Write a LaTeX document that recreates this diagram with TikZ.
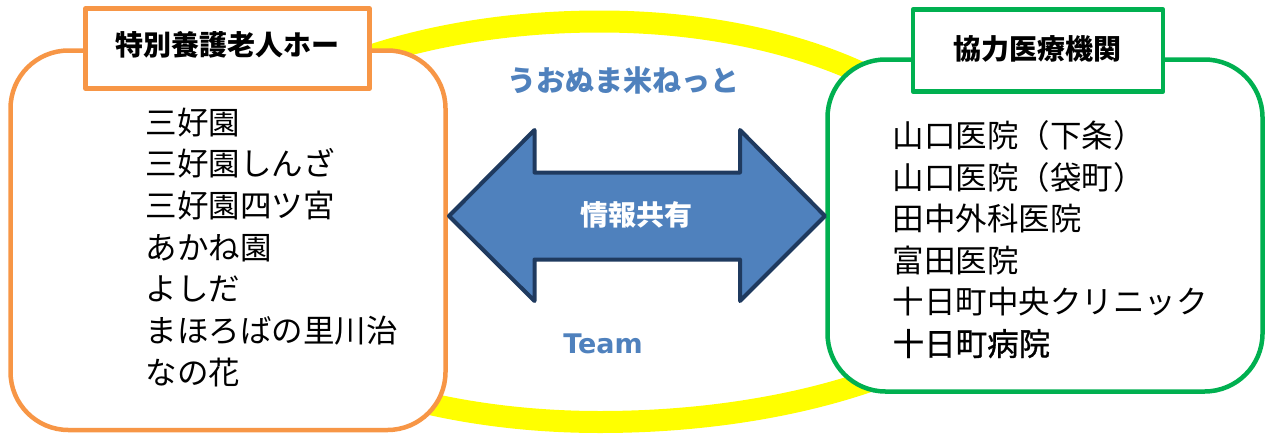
\documentclass[tikz,border=0pt]{standalone}
\usepackage{fontspec}
\setmainfont{Noto Sans CJK JP}
\newfontfamily\teamfont{DejaVu Sans}
\definecolor{homeorange}{HTML}{F79646}
\definecolor{clinicgreen}{HTML}{00B050}
\definecolor{netblue}{HTML}{4F81BD}
\definecolor{arrownavy}{HTML}{1F3A5F}
\definecolor{ringyellow}{HTML}{FFFF00}

\begin{document}
\begin{tikzpicture}[x=1pt,y=-1pt]

    \tikzset{
      group/.style={line width = 4.5, fill = white, rounded corners = 58},
      title/.style={line width = 4.5, fill = white, line join = round},
      member/.style={anchor = base west, inner sep = 0pt, font = \fontsize{31.5}{31.5}\selectfont},
      heading/.style={anchor = center, inner sep = 0pt, font = \fontsize{28}{28}\selectfont\bfseries},
    }
    \useasboundingbox (0,0) rectangle (1265,434);

	\draw[color = {ringyellow}, line width = 22] (190,221.5) .. controls (190,110.9) and (373.7,21.5) .. (600,21.5) .. controls (815.3,21.5) and (990,110.9) .. (990,221.5) -- (1045,221.5) .. controls (1045,332.1) and (845.6,422) .. (600,422) .. controls (373.7,422) and (190,332.1) .. (190,221.5) -- cycle;

	\draw[color = {homeorange}, group] (10.5,50.5) rectangle (445.5,430);
	\draw[color = {clinicgreen}, group] (827.5,59.5) rectangle (1262.5,391.5);
	\draw[color = {homeorange}, title] (85.5,8.5) rectangle (369.5,88.5);
	\draw[color = {clinicgreen}, title] (913,9.5) rectangle (1163,91.5);

	\draw[color = {arrownavy}, fill = {netblue}, line width = 4, line join = round] (449,216) -- (534.5,130) -- (534.5,172.5) -- (740,172.5) -- (740,130) -- (825,216) -- (740,301) -- (740,259.5) -- (534.5,259.5) -- (534.5,301) -- cycle;

	\draw (227.5,45) node[heading] (homes) {特別養護老人ホー};
	\draw (1037.5,48.5) node[heading] (clinics) {協力医療機関};
	\draw (623,80.5) node[heading, color = {netblue}, font = \fontsize{29}{29}\selectfont\bfseries] (net) {うおぬま米ねっと};
	\draw (636.7,214.5) node[heading, color = white] (share) {情報共有};
	\draw (603,344) node[anchor = center, inner sep = 0pt, color = {netblue}, font = \fontsize{27}{27}\selectfont\teamfont\bfseries] (team) {Team};

	\draw (145.5,134) node[member] (home1) {三好園};
	\draw (145.5,175.7) node[member] (home2) {三好園しんざ};
	\draw (145.5,217.3) node[member] (home3) {三好園四ツ宮};
	\draw (145.5,259) node[member] (home4) {あかね園};
	\draw (145.5,300.7) node[member] (home5) {よしだ};
	\draw (145.5,342.3) node[member] (home6) {まほろばの里川治};
	\draw (145.5,384) node[member] (home7) {なの花};

	\draw (892.5,147.5) node[member] (clinic1) {山口医院（下条）};
	\draw (892.5,189.1) node[member] (clinic2) {山口医院（袋町）};
	\draw (892.5,230.7) node[member] (clinic3) {田中外科医院};
	\draw (892.5,272.3) node[member] (clinic4) {富田医院};
	\draw (892.5,313.9) node[member] (clinic5) {十日町中央クリニック};
	\draw (892.5,355.5) node[member, font = \fontsize{31.5}{31.5}\selectfont\addfontfeature{FakeBold=1}] (clinic6) {十日町病院};

\end{tikzpicture}
\end{document}
